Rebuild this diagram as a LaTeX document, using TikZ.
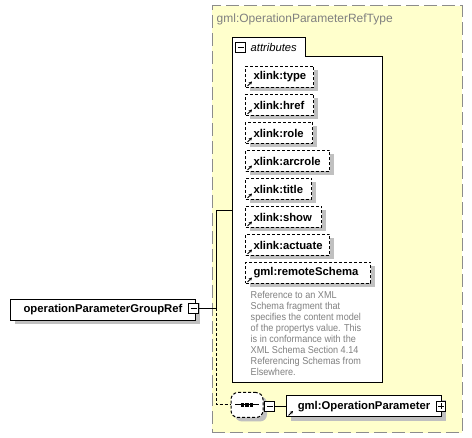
\documentclass[tikz,border=0pt]{standalone}
\usepackage{fontspec}
\setmainfont{Liberation Sans}
\newfontfamily\descfont{Liberation Sans}[FakeStretch=0.91]
\usetikzlibrary{shadows,arrows.meta}
\definecolor{cyellow}{HTML}{FFFFCC}
\definecolor{cshadow}{HTML}{C0C0C0}
\definecolor{cgraytext}{HTML}{808080}
\definecolor{cdash}{HTML}{8C8C8C}
\begin{document}
\begin{tikzpicture}[x=1pt,y=-1pt,
  shad/.style={general shadow={fill=cshadow, shadow xshift=4pt, shadow yshift=-4pt}},
  elem/.style={draw=black, line width=1pt, fill=white, shad, anchor=north west,
     minimum height=21pt, inner ysep=0pt, inner xsep=8pt, align=left,
     font=\fontsize{11.3}{13}\selectfont\bfseries},
  attr/.style={elem, dash pattern=on 3pt off 2pt, text width=#1-16pt},
  pm/.style={draw=black, line width=0.8pt, fill=white, minimum size=9.5pt, inner sep=0pt},
  conn/.style={line width=1pt, draw=black},
  dconn/.style={line width=1pt, draw=black, dash pattern=on 3pt off 2pt},
  xl/.style={line width=1pt, -{Stealth[length=3.2pt,width=3.4pt]}}
]
\useasboundingbox (0,0) rectangle (472,438);
% outer type box
\node[draw=cdash, fill=cyellow, line width=1pt, dash pattern=on 13pt off 5pt,
  anchor=north west, minimum width=250pt, minimum height=427pt, inner sep=0pt] (typebox) at (211.5,5.5) {};
\node[anchor=west, text=cgraytext, font=\fontsize{12}{14}\selectfont, inner sep=0pt] (typetitle) at (216.5,19) {gml:OperationParameterRefType};

% attributes container
\path[fill=white, draw=black, line width=1pt] (232,38) -| (305,57) -| (382,383) -| cycle;
\coordinate (attrs) at (232,211);
\node[pm] (attrminus) at (240.5,47.5) {};
\draw[line width=0.8pt] (attrminus.center)+(-3,0) -- +(3,0);
\node[anchor=west, inner sep=0pt, font=\fontsize{11.2}{13}\selectfont\itshape] (attrlabel) at (250.5,47.5) {attributes};

% attribute boxes
\foreach \n/\t/\w/\lab in {a1/66/68/xlink:type, a2/94/68/xlink:href, a3/122/67/xlink:role,
   a4/150/84/xlink:arcrole, a5/178/66/xlink:title, a6/206/76/xlink:show,
   a7/234/84/xlink:actuate, a8/262/125/gml:remoteSchema}{
  \node[attr=\w pt, minimum width=\w pt] (\n) at (245,\t) {\lab};
  \draw[xl] ([shift={(2.5,-2)}]\n.south west) -- ++(4.5,-4.5);
}

% description
\node[anchor=north west, inner sep=0pt, align=left, text=cgraytext,
  font=\descfont\fontsize{10}{10.9}\selectfont] (desc) at (250.5,291.5)
  {Reference to an XML\\Schema fragment that\\specifies the content model\\of the propertys value. This\\is in conformance with the\\XML Schema Section 4.14\\Referencing Schemas from\\Elsewhere.};

% group ref element
\node[elem, minimum width=185pt, inner xsep=9pt] (grp) at (10,299) {operationParameterGroupRef};
\node[pm] (grpminus) at (193.5,308.5) {};
\draw[line width=0.8pt] (grpminus.center)+(-3,0) -- +(3,0);
\coordinate (junc) at (216,308.5);
\draw[conn] (grpminus.east) -- (junc);
\draw[conn] (junc) |- (attrs);

% sequence
\node[rectangle, rounded corners=7pt, draw=black, fill=white,
  line width=1pt, dash pattern=on 3pt off 2pt, shad, minimum width=32pt, minimum height=25pt,
  inner sep=0pt] (seq) at (247,405) {};
\draw[line width=1pt] (seq.center)+(-12,0) -- +(12,0);
\foreach \dx in {-4.2,0,4.2}{\fill ([xshift=\dx pt]seq.center) +(-1.6,-1.6) rectangle +(1.6,1.6);}
\draw[dconn] (junc) |- (seq.west);
\node[pm] (seqminus) at (269.5,406.5) {};
\draw[line width=0.8pt] (seqminus.center)+(-3,0) -- +(3,0);

% operation parameter element
\node[elem, minimum width=155pt] (op) at (286,395.5) {gml:OperationParameter};
\draw[xl] ([shift={(2.5,-2)}]op.south west) -- ++(4.5,-4.5);
\node[pm] (opplus) at (441,406.5) {};
\draw[line width=0.8pt] (opplus.center)+(-3,0) -- +(3,0) (opplus.center)+(0,-3) -- +(0,3);
\draw[conn] (seqminus.east) -- (op.west);
\end{tikzpicture}
\end{document}
